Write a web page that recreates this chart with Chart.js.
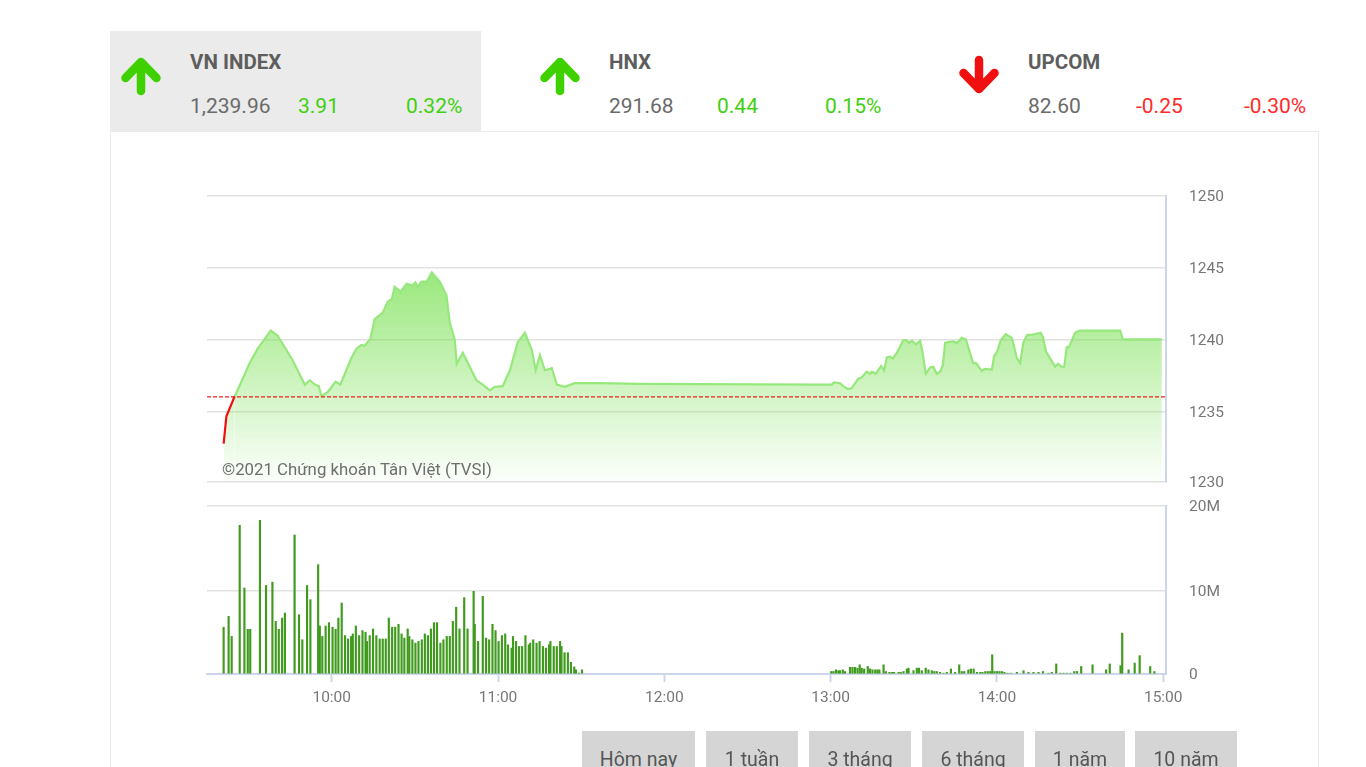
<!DOCTYPE html>
<html><head><meta charset="utf-8">
<script src="https://cdn.jsdelivr.net/npm/chart.js@4"></script>
<style>
html,body{margin:0;padding:0;background:#fff;overflow:hidden;width:1366px;height:767px;font-family:Roboto,sans-serif}
.abs{position:absolute;white-space:nowrap;line-height:1}
canvas{position:absolute;left:0;top:0}
.t{font-weight:700;font-size:20.5px;color:#5e5e5e;top:52px}
.v{font-size:21px;top:96px}
.g{color:#6a6a6a}.u{color:#3fd010}.d{color:#ff2b2b}
.btn{position:absolute;top:731px;height:60px;background:#d5d5d5;color:#555;font-size:19.5px;text-align:center;line-height:58px}
</style></head><body>
<div class="abs" style="left:110px;top:31px;width:371px;height:100px;background:#ebebeb"></div>
<div class="abs" style="left:110px;top:131px;width:1209px;height:660px;border:1px solid #e9e9e9;box-sizing:border-box"></div>
<svg class="abs" style="left:0;top:0" width="1366" height="140" fill="none" stroke-width="8.500" stroke-linecap="round" stroke-linejoin="round">
<path d="M141 91V62M125.500 78L141 62L156.500 78" stroke="#3fd000"/>
<path d="M560 91V62M544.500 78L560 62L575.500 78" stroke="#3fd000"/>
<path d="M979 60V89M963.500 73L979 89L994.500 73" stroke="#f01010"/>
</svg>
<div class="abs t" style="left:190px">VN INDEX</div>
<div class="abs v g" style="left:190px">1,239.96</div><div class="abs v u" style="left:298px">3.91</div><div class="abs v u" style="left:406px">0.32%</div>
<div class="abs t" style="left:609px">HNX</div>
<div class="abs v g" style="left:609px">291.68</div><div class="abs v u" style="left:717px">0.44</div><div class="abs v u" style="left:825px">0.15%</div>
<div class="abs t" style="left:1028px">UPCOM</div>
<div class="abs v g" style="left:1028px">82.60</div><div class="abs v d" style="left:1136px">-0.25</div><div class="abs v d" style="left:1244px">-0.30%</div>
<canvas id="price" width="1366" height="767"></canvas>
<canvas id="volume" width="1366" height="767"></canvas>
<div class="abs" style="left:222px;top:461px;font-size:16.8px;color:#6e6e6e">©2021 Chứng khoán Tân Việt (TVSI)</div>
<div class="btn" style="left:582px;width:113px">Hôm nay</div>
<div class="btn" style="left:706px;width:92px">1 tuần</div>
<div class="btn" style="left:809px;width:102px">3 tháng</div>
<div class="btn" style="left:922px;width:102px">6 tháng</div>
<div class="btn" style="left:1035px;width:90px">1 năm</div>
<div class="btn" style="left:1135px;width:102px">10 năm</div>
<script>
const referenceLevel = 1236.05;
const axisMinutes = [555, 901];
const hourTicks = [600, 660, 720, 780, 840, 900];
const priceTicks = [1230.14, 1235, 1240, 1245, 1250];
const volumeTicks = [0, 10, 20.12];

const priceMinutes = [561,562,565,567.4,570.4,573.3,578,580.5,585.9,590.3,592.1,593.9,595.3,596.3,598.6,601.4,603.1,607.1,608.9,610.7,611.9,614,615.5,618.4,620.2,621.7,622.7,624.9,627,629.2,630.2,631,632.4,634.2,636.1,639,641.4,642.6,644.4,645.1,647.3,652.2,654.5,657,658.8,661.7,664.3,667.1,669.7,672.2,673.6,675.1,676.9,679.4,681.2,684.1,687.7,696.8,711.2,776.2,780.4,781.2,783.4,784.5,786.3,787.6,789.9,791.2,793,794.2,794.9,796.3,798.2,799.3,800.3,801.4,802.4,804,806.1,807.2,808.3,809.4,810.7,812.3,813.2,814.3,815.9,817,818.3,819.5,820.5,821.3,822.4,824.1,825.6,827.3,828.8,831.4,832.5,834.5,835.7,838.2,839,840.1,841.4,843.2,845.4,847.2,848.4,849.5,850.9,852.2,855.8,856.6,857.7,861,862.1,863.1,864.3,865.2,866.1,868.2,869.7,884.5,885.4,899.5];
const priceValues = [1232.8,1234.7,1236.1,1237.1,1238.4,1239.4,1240.65,1240.3,1238.6,1236.9,1237.2,1236.9,1236.8,1236.1,1236.4,1237.1,1236.9,1238.75,1239.4,1239.65,1239.6,1240.1,1241.45,1241.9,1242.65,1242.85,1243.7,1243.35,1243.9,1243.8,1244,1243.7,1244.05,1244.05,1244.7,1244.05,1243.1,1241.2,1240,1238.35,1239.1,1237.2,1236.9,1236.5,1236.75,1236.8,1237.9,1239.85,1240.5,1239.3,1237.9,1238.95,1237.9,1238.05,1236.9,1236.75,1237,1237,1236.95,1236.9,1236.9,1237.05,1237,1236.8,1236.6,1236.65,1237.3,1237.4,1237.8,1237.65,1237.8,1237.65,1238.2,1237.9,1238.8,1238.85,1238.7,1239.15,1239.95,1240,1239.8,1239.95,1239.7,1239.95,1239.1,1237.65,1238.1,1238.15,1237.65,1237.8,1238.25,1239.8,1239.85,1239.9,1239.8,1240.15,1240.05,1238.4,1238.4,1237.85,1238,1237.95,1238.9,1239.2,1240,1240.4,1240.15,1238.75,1238.4,1239.8,1240.35,1240.35,1240.5,1240.2,1239.2,1238.15,1238.35,1238.15,1238.15,1239.5,1239.55,1240.5,1240.65,1240.65,1240.05,1240.05];

const volumeMinutes = [561,562.8,563.9,566.8,568.5,569.7,570.6,574.1,576.3,578.6,579.8,580.9,582.1,583.1,586.6,588.2,589.4,591.1,592.3,595.1,595.7,596.6,597.8,599,600.3,601.4,602.4,603.6,604.8,605.9,607,607.6,608.7,609.9,611.1,612.2,612.7,613.7,614.9,616.1,617.3,618.4,619.5,620.6,621.8,622.9,624.1,625.2,626.2,627.4,628,629.1,630.2,631.3,632.5,633.6,634.7,635.8,636.9,638,639.2,640.3,641.5,642.6,643.7,644.9,646.1,647.8,649,651.2,651.6,652.8,654.5,655.7,656.8,658,659.1,660.2,661.4,662.6,663.6,664.9,665.4,666.5,667.6,668.7,669.9,671.1,671.6,672.7,673.9,675,676.2,677.3,678.4,678.9,680.1,681.2,682.4,682.9,684,685.2,686.3,687.5,688.1,689.2,690.3,
780.2,781,781.9,782.8,783.4,784.4,785.2,787,787.9,788.8,789.7,790.5,791.2,792.1,793.4,794.2,795.1,796.1,796.9,797.6,799.1,799.9,801.2,802.1,802.9,804.5,805.3,806.3,807.5,808.1,809.9,811.1,811.9,812.9,814.3,815.3,816.5,817.4,818.3,819.5,820.7,821.9,823.4,824.9,826.4,827.3,828.2,829.7,830.6,831.6,832.8,834,834.8,835.8,836.7,837.6,838.3,839.1,840,840.9,841.8,842.7,843.8,845,847.2,849.6,851.4,853.2,855,856.6,858.6,859.8,861.4,862.8,864,865.2,866.5,867.9,868.9,870.4,874.5,879.4,880.7,884.6,885.2,887.5,889.7,891.5,895.3,896.8];
const volumeMillions = [5.6,6.9,4.5,17.8,10.3,5.35,5.35,18.4,10.6,11,6.3,5.35,6.7,7.3,16.65,7.1,4.1,10.6,8.9,13.1,5.75,4.5,5.75,6.15,5.6,5.35,6.7,8.5,4.6,4.2,4.5,4.8,5.75,4.6,5.2,5,3.9,4.6,5.4,4.6,4.2,4.2,4.2,6.7,5.6,5.6,5.95,4.8,4.3,5.4,4.5,4.1,3.7,3.9,4.1,4.8,4.6,5.4,6.15,6.15,3.7,4.1,4.5,4.5,6.3,8,5.4,9.15,5.4,9.9,5.95,3.9,9.3,4.3,4.1,5.95,5.2,3.9,4.6,4.8,3.5,3.1,4.5,3.9,3.3,3.3,4.6,3.5,3.7,4.1,3.7,3.9,3.3,3.1,3.5,3.9,3.3,3.3,3.9,3.3,2.55,2.55,1.4,0.85,0.5,0.12,0.5,
0.3,0.3,0.5,0.4,0.4,0.5,0.3,0.8,0.8,0.8,0.7,1.1,0.7,0.6,0.9,0.6,0.5,0.5,0.5,0.5,1.1,0.3,0.2,0.2,0.2,0.2,0.2,0.3,0.6,0.7,0.4,0.7,0.7,0.4,0.7,0.5,0.4,0.3,0.3,0.2,0.1,0.2,0.6,0.2,1.1,0.3,0.3,0.5,0.6,0.6,0.2,0.2,0.2,0.3,0.3,0.3,2.3,0.3,0.3,0.3,0.3,0.2,0.1,0.1,0.2,0.4,0.2,0.2,0.2,0.3,0.1,0.2,1.2,0.1,0.1,0.1,0.1,0.3,0.3,0.9,1.1,0.5,1.2,1,4.9,0.5,1.3,2.2,0.9,0.3];

const tickFont = {family:'Roboto', size:15.5};
const tickColor = '#777';
const gridColor = '#e2e2e2';
const axisBlue = '#ccd6eb';
const axisBoxWidth = 80;
const fixWidth = s => { s.width = axisBoxWidth; };
const hhmm = m => Math.floor(m/60) + ':' + String(m%60).padStart(2,'0');

new Chart(document.getElementById('price'), {
  type:'line',
  data:{datasets:[
    {data:axisMinutes.map(x=>({x,y:referenceLevel})), borderColor:'#f02020', borderWidth:1.2, borderDash:[4,2], pointRadius:0, fill:false, order:0},
    {data:priceMinutes.map((x,i)=>({x,y:priceValues[i]})), borderColor:'#96e87c', borderWidth:2.2, pointRadius:0, tension:0, fill:'start', order:1,
     segment:{borderColor:c=>c.p0.parsed.y<referenceLevel?'#f01010':undefined},
     backgroundColor:c=>{const a=c.chart.chartArea; if(!a) return 'transparent';
       const g=c.chart.ctx.createLinearGradient(0,a.top,0,a.bottom);
       g.addColorStop(0,'rgba(118,224,78,1)'); g.addColorStop(1,'rgba(118,224,78,0.02)'); return g;}}
  ]},
  options:{responsive:false, animation:false, events:[],
    layout:{padding:{left:207,right:200-axisBoxWidth,top:196,bottom:285}},
    plugins:{legend:{display:false},tooltip:{enabled:false}},
    scales:{
      x:{type:'linear',display:false,min:axisMinutes[0],max:axisMinutes[1]},
      y:{position:'right',min:priceTicks[0],max:priceTicks[4],afterFit:fixWidth,
        afterBuildTicks:s=>{s.ticks=priceTicks.map(value=>({value}));},
        grid:{color:gridColor,lineWidth:1.6,drawTicks:false},
        border:{color:axisBlue,width:2},
        ticks:{padding:23,labelOffset:1.5,font:tickFont,color:tickColor,callback:v=>String(Math.round(v))}}
    }}
});

new Chart(document.getElementById('volume'), {
  type:'bar',
  data:{datasets:[{data:volumeMinutes.map((x,i)=>({x,y:volumeMillions[i]})), backgroundColor:'#3f9a1e', barThickness:1.5}]},
  options:{responsive:false, animation:false, events:[],
    layout:{padding:{left:207,right:200-axisBoxWidth,top:506,bottom:53}},
    plugins:{legend:{display:false},tooltip:{enabled:false}},
    scales:{
      x:{type:'linear',offset:false,min:axisMinutes[0],max:axisMinutes[1],afterFit:s=>{s.height=40;},
        afterBuildTicks:s=>{s.ticks=hourTicks.map(value=>({value}));},
        grid:{offset:false,drawOnChartArea:false,drawTicks:true,tickLength:8,tickColor:axisBlue,tickWidth:2},
        border:{color:axisBlue,width:2},
        ticks:{autoSkip:false,maxRotation:0,padding:7,font:tickFont,color:tickColor,callback:v=>hhmm(v)}},
      y:{position:'right',min:0,max:volumeTicks[2],afterFit:fixWidth,
        afterBuildTicks:s=>{s.ticks=volumeTicks.map(value=>({value}));},
        grid:{color:c=>c.tick.value===0?axisBlue:gridColor,lineWidth:1.6,drawTicks:false},
        border:{color:axisBlue,width:2},
        ticks:{padding:23,labelOffset:1.5,font:tickFont,color:tickColor,callback:v=>v===0?'0':Math.round(v)+'M'}}
    }}
});
</script>
</body></html>
